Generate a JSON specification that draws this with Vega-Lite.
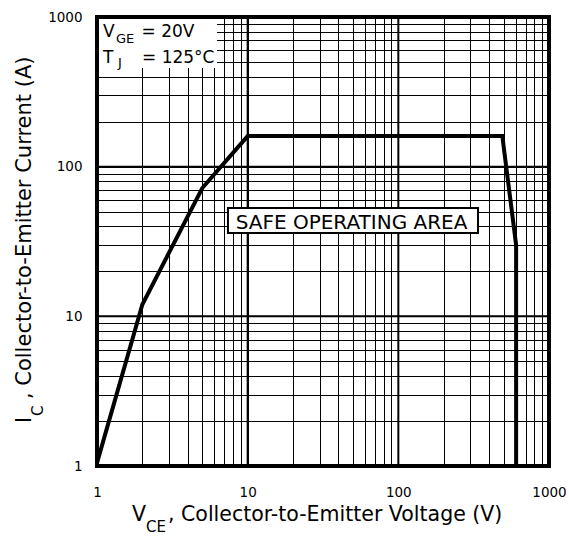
{
  "$schema": "https://vega.github.io/schema/vega-lite/v6.json",
  "width": 452,
  "height": 449,
  "autosize": {"type": "none"},
  "padding": {"left": 97, "top": 17, "right": 20, "bottom": 70},
  "background": "white",
  "config": {
    "view": {"stroke": null},
    "axis": {
      "labelFont": "DejaVu Sans",
      "labelFontSize": 13.5,
      "labelColor": "black",
      "grid": true,
      "gridColor": "black",
      "gridWidth": 1,
      "gridOpacity": 1,
      "ticks": false,
      "tickSize": 0,
      "domain": false,
      "labelOverlap": false,
      "labelFlush": false,
      "labelBound": false,
      "title": null
    }
  },
  "resolve": {"axis": {"x": "independent", "y": "independent"}},
  "datasets": {
    "decades": [{"v": 10}, {"v": 100}],
    "curve": [
      {"i": 0, "x": 1, "y": 1.05},
      {"i": 1, "x": 2, "y": 12},
      {"i": 2, "x": 5, "y": 72},
      {"i": 3, "x": 10, "y": 160},
      {"i": 4, "x": 490, "y": 160},
      {"i": 5, "x": 605, "y": 30},
      {"i": 6, "x": 605, "y": 1}
    ],
    "legendMain": [
      {"x": 1.096, "y": 735, "t": "V"},
      {"x": 1.974, "y": 735, "t": "= 20V"},
      {"x": 1.096, "y": 493, "t": "T"},
      {"x": 1.989, "y": 493, "t": "= 125°C"}
    ],
    "legendSub": [
      {"x": 1.337, "y": 670, "t": "GE"},
      {"x": 1.379, "y": 463, "t": "J"}
    ],
    "soa": [{"x": 48.9, "y": 38.3, "t": "SAFE OPERATING AREA"}],
    "xTitleMain": [
      {"x": 1.707, "y": 0.429, "t": "V"},
      {"x": 2.96, "y": 0.429, "t": ", Collector-to-Emitter Voltage (V)"}
    ],
    "xTitleSub": [{"x": 2.115, "y": 0.362, "t": "CE"}],
    "yTitleMain": [
      {"x": 0.3674, "y": 1.938, "t": "I"},
      {"x": 0.3674, "y": 2.8, "t": ", Collector-to-Emitter Current (A)"}
    ],
    "yTitleSub": [{"x": 0.438, "y": 2.16, "t": "C"}]
  },
  "layer": [
    {
      "data": {"name": "decades"},
      "mark": {"type": "rule", "color": "black", "strokeWidth": 2},
      "encoding": {
        "x": {
          "field": "v",
          "type": "quantitative",
          "scale": {"type": "log", "domain": [1, 1000], "nice": false},
          "axis": {
            "values": [1, 2, 3, 4, 5, 6, 7, 8, 9, 10, 20, 30, 40, 50, 60, 70, 80, 90, 100, 200, 300, 400, 500, 600, 700, 800, 900, 1000],
            "labelExpr": "(datum.value == 1 || datum.value == 10 || datum.value == 100 || datum.value == 1000) ? format(datum.value, 'd') : ''",
            "labelPadding": 19
          }
        }
      }
    },
    {
      "data": {"name": "decades"},
      "mark": {"type": "rule", "color": "black", "strokeWidth": 2},
      "encoding": {
        "y": {
          "field": "v",
          "type": "quantitative",
          "scale": {"type": "log", "domain": [1, 1000], "nice": false},
          "axis": {
            "values": [1, 2, 3, 4, 5, 6, 7, 8, 9, 10, 20, 30, 40, 50, 60, 70, 80, 90, 100, 200, 300, 400, 500, 600, 700, 800, 900, 1000],
            "labelExpr": "(datum.value == 1 || datum.value == 10 || datum.value == 100 || datum.value == 1000) ? format(datum.value, 'd') : ''",
            "labelPadding": 15
          }
        }
      }
    },
    {
      "data": {"values": [{}]},
      "mark": {"type": "rect", "fill": "white", "stroke": null},
      "encoding": {
        "x": {"datum": 1, "type": "quantitative", "axis": null},
        "x2": {"datum": 6.26},
        "y": {"datum": 456, "type": "quantitative", "axis": null},
        "y2": {"datum": 1000}
      }
    },
    {
      "data": {"name": "curve"},
      "mark": {"type": "line", "color": "black", "strokeWidth": 4, "clip": true},
      "encoding": {
        "x": {"field": "x", "type": "quantitative", "axis": null},
        "y": {"field": "y", "type": "quantitative", "axis": null},
        "order": {"field": "i", "type": "quantitative"}
      }
    },
    {
      "data": {"values": [{}]},
      "mark": {"type": "rect", "fill": "white", "stroke": "black", "strokeWidth": 2},
      "encoding": {
        "x": {"datum": 7.4, "type": "quantitative", "axis": null},
        "x2": {"datum": 338},
        "y": {"datum": 36.1, "type": "quantitative", "axis": null},
        "y2": {"datum": 52.9}
      }
    },
    {
      "data": {"name": "soa"},
      "mark": {"type": "text", "font": "DejaVu Sans", "fontSize": 20, "align": "center", "baseline": "alphabetic", "color": "black"},
      "encoding": {
        "x": {"field": "x", "type": "quantitative", "axis": null},
        "y": {"field": "y", "type": "quantitative", "axis": null},
        "text": {"field": "t"}
      }
    },
    {
      "data": {"name": "legendMain"},
      "mark": {"type": "text", "font": "DejaVu Sans", "fontSize": 17, "align": "left", "baseline": "alphabetic", "color": "black"},
      "encoding": {
        "x": {"field": "x", "type": "quantitative", "axis": null},
        "y": {"field": "y", "type": "quantitative", "axis": null},
        "text": {"field": "t"}
      }
    },
    {
      "data": {"name": "legendSub"},
      "mark": {"type": "text", "font": "DejaVu Sans", "fontSize": 13, "align": "left", "baseline": "alphabetic", "color": "black"},
      "encoding": {
        "x": {"field": "x", "type": "quantitative", "axis": null},
        "y": {"field": "y", "type": "quantitative", "axis": null},
        "text": {"field": "t"}
      }
    },
    {
      "data": {"name": "xTitleMain"},
      "mark": {"type": "text", "font": "DejaVu Sans", "fontSize": 20.5, "align": "left", "baseline": "alphabetic", "color": "black"},
      "encoding": {
        "x": {"field": "x", "type": "quantitative", "axis": null},
        "y": {"field": "y", "type": "quantitative", "axis": null},
        "text": {"field": "t"}
      }
    },
    {
      "data": {"name": "xTitleSub"},
      "mark": {"type": "text", "font": "DejaVu Sans", "fontSize": 15, "align": "left", "baseline": "alphabetic", "color": "black"},
      "encoding": {
        "x": {"field": "x", "type": "quantitative", "axis": null},
        "y": {"field": "y", "type": "quantitative", "axis": null},
        "text": {"field": "t"}
      }
    },
    {
      "data": {"name": "yTitleMain"},
      "mark": {"type": "text", "font": "DejaVu Sans", "fontSize": 21, "angle": 270, "align": "left", "baseline": "alphabetic", "color": "black"},
      "encoding": {
        "x": {"field": "x", "type": "quantitative", "axis": null},
        "y": {"field": "y", "type": "quantitative", "axis": null},
        "text": {"field": "t"}
      }
    },
    {
      "data": {"name": "yTitleSub"},
      "mark": {"type": "text", "font": "DejaVu Sans", "fontSize": 15, "angle": 270, "align": "left", "baseline": "alphabetic", "color": "black"},
      "encoding": {
        "x": {"field": "x", "type": "quantitative", "axis": null},
        "y": {"field": "y", "type": "quantitative", "axis": null},
        "text": {"field": "t"}
      }
    },
    {
      "data": {"values": [{}]},
      "mark": {"type": "rect", "filled": false, "stroke": "black", "strokeWidth": 4},
      "encoding": {
        "x": {"datum": 1, "type": "quantitative", "axis": null},
        "x2": {"datum": 1000},
        "y": {"datum": 1, "type": "quantitative", "axis": null},
        "y2": {"datum": 1000}
      }
    }
  ]
}
